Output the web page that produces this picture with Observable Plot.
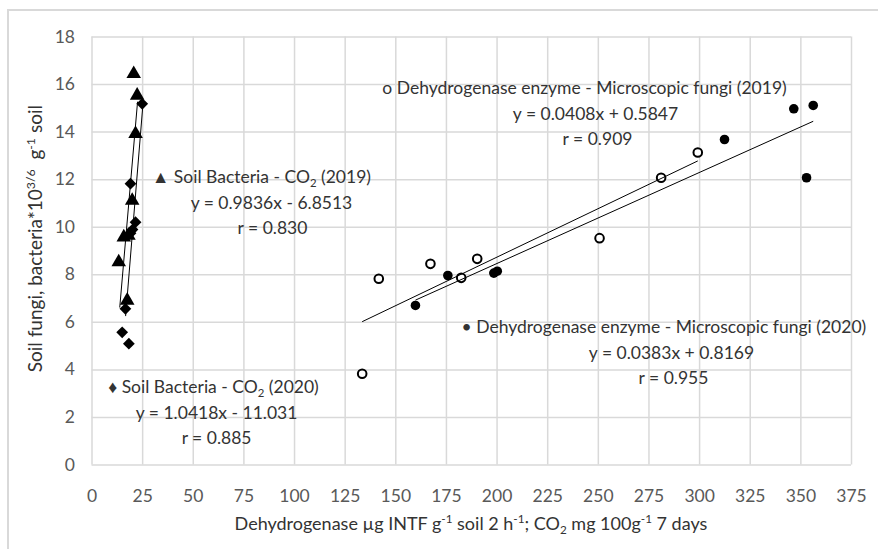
<!DOCTYPE html>
<html><head><meta charset="utf-8">
<script src="https://cdn.jsdelivr.net/npm/d3@7"></script>
<script src="https://cdn.jsdelivr.net/npm/@observablehq/plot@0.6"></script>
<style>
body{margin:0;background:#fff;}
#wrap{position:relative;width:878px;height:549px;overflow:hidden;background:#fff;}
#chart{position:absolute;left:0;top:0;}
#border{position:absolute;left:7px;top:9px;width:1000px;height:1000px;border-left:2px solid #d9d9d9;border-top:2px solid #d9d9d9;pointer-events:none;}
</style></head><body>
<div id="wrap"><div id="chart"></div><div id="border"></div></div>
<script>
// ---- tick values ----
const xTicks = [0,25,50,75,100,125,150,175,200,225,250,275,300,325,350,375];
const yTicks = [0,2,4,6,8,10,12,14,16,18];

// ---- Soil Bacteria - CO2 (2019) : triangles ----
const bact2019X = [20.6, 22.3, 21.5, 19.85, 15.7, 18.0, 13.2, 17.4];
const bact2019Y = [16.45, 15.54, 13.93, 11.12, 9.58, 9.65, 8.53, 6.92];
// ---- Soil Bacteria - CO2 (2020) : diamonds ----
const bact2020X = [24.8, 19.0, 21.5, 20.0, 19.0, 16.5, 14.9, 18.2];
const bact2020Y = [15.19, 11.83, 10.21, 9.9, 9.75, 6.57, 5.58, 5.10];
// ---- Dehydrogenase - Microscopic fungi (2019) : open circles ----
const fung2019X = [141.6, 167.1, 182.3, 190.2, 133.4, 250.6, 281.0, 299.1];
const fung2019Y = [7.83, 8.46, 7.87, 8.67, 3.84, 9.54, 12.08, 13.14];
// ---- Dehydrogenase - Microscopic fungi (2020) : filled circles ----
const fung2020X = [175.7, 198.4, 200.1, 159.7, 346.5, 356.1, 312.3, 352.8];
const fung2020Y = [7.97, 8.07, 8.15, 6.71, 14.98, 15.12, 13.69, 12.08];

// ---- trend lines (from the chart's equations), x-extent as drawn ----
const trendNames = ["bact2019", "bact2020", "fung2019", "fung2020"];
const trendSlope = [0.9836, 1.0418, 0.0408, 0.0383];
const trendIntercept = [-6.8513, -11.031, 0.5847, 0.8169];
const trendXmin = [13.7, 16.6, 133.4, 159.7];
const trendXmax = [22.5, 25.0, 299.1, 356.1];

// ---- texts ----
const labBact2019 = ["\u25B2 Soil Bacteria - CO_{2} (2019)", "y = 0.9836x - 6.8513", "r = 0.830"];
const labBact2020 = ["\u2666 Soil Bacteria - CO_{2} (2020)", "y = 1.0418x - 11.031", "r = 0.885"];
const labFung2019 = ["o Dehydrogenase enzyme - Microscopic fungi (2019)", "y = 0.0408x + 0.5847", "r = 0.909"];
const labFung2020 = ["\u2022 Dehydrogenase enzyme - Microscopic fungi (2020)", "y = 0.0383x + 0.8169", "r = 0.955"];
const xTitle = "Dehydrogenase \u00B5g INTF g^{-1} soil 2 h^{-1}; CO_{2} mg 100g^{-1} 7 days";
const yTitle = "Soil fungi, bacteria*10^{3/6}  g^{-1} soil";

const toPts = (xs, ys) => xs.map((x, i) => ({x, y: ys[i]}));
const trends = trendNames.map((n, i) => ({
  name: n,
  x1: trendXmin[i], y1: trendSlope[i] * trendXmin[i] + trendIntercept[i],
  x2: trendXmax[i], y2: trendSlope[i] * trendXmax[i] + trendIntercept[i]
}));

const FONT = "Lato, 'Open Sans', sans-serif";
const FS = 17.5;
const TXT = "#333333";

function label(lines, y, xs) {
  return lines.map((t, i) => Plot.text([t], {
    x: xs[i], y: y - i * 1.07,
    textAnchor: "middle", fontSize: FS, fill: TXT
  }));
}

const chart = Plot.plot({
  width: 878, height: 549,
  marginLeft: 91.5, marginRight: 27, marginTop: 36.5, marginBottom: 84.5,
  style: {fontFamily: FONT, background: "transparent", overflow: "visible"},
  x: {domain: [0, 375]},
  y: {domain: [0, 18]},
  marks: [
    Plot.gridX(xTicks, {stroke: "#d9d9d9", strokeOpacity: 1, strokeWidth: 1.5}),
    Plot.gridY(yTicks, {stroke: "#d9d9d9", strokeOpacity: 1, strokeWidth: 1.5}),
    Plot.axisX(xTicks, {tickSize: 0, tickPadding: 25, fontSize: FS, fill: "#595959", tickFormat: d => String(d)}),
    Plot.axisY(yTicks, {tickSize: 0, tickPadding: 17, fontSize: FS, fill: "#595959", tickFormat: d => String(d)}),
    Plot.dot(toPts(fung2019X, fung2019Y), {x: "x", y: "y", r: 4.3, fill: "white", stroke: "black", strokeWidth: 2}),
    Plot.dot(toPts(fung2020X, fung2020Y), {x: "x", y: "y", r: 4.8, fill: "black"}),
    Plot.dot(toPts(bact2020X, bact2020Y), {x: "x", y: "y", symbol: "diamond2", r: 5.3, fill: "black"}),
    Plot.dot(toPts(bact2019X, bact2019Y), {x: "x", y: "y", symbol: "triangle", r: 5.4, fill: "black"}),
    Plot.link(trends, {x1: "x1", y1: "y1", x2: "x2", y2: "y2", stroke: "black", strokeWidth: 1}),
    ...label(labBact2019, 12.09, [83.7, 88.6, 89.1]),
    ...label(labBact2020, 3.26, [60.0, 61.5, 61.5]),
    ...label(labFung2019, 15.83, [243.2, 248.6, 249.6]),
    Plot.text([labFung2020[0]], {x: 182.5, y: 5.78, textAnchor: "start", fontSize: FS, fill: TXT}),
    Plot.text([labFung2020[1]], {x: 286.1, y: 4.71, fontSize: FS, fill: TXT}),
    Plot.text([labFung2020[2]], {x: 287.1, y: 3.64, fontSize: FS, fill: TXT}),
    Plot.text([xTitle], {x: 187.1, frameAnchor: "bottom", dy: 65, textAnchor: "middle", fontSize: FS + 0.5, fill: TXT}),
    Plot.text([yTitle], {y: 9.52, frameAnchor: "left", dx: -56, rotate: -90, textAnchor: "middle", fontSize: 19, fill: TXT})
  ]
});

document.getElementById("chart").appendChild(chart);

// super/subscript markup -> tspans
(function richify(svg) {
  const ns = "http://www.w3.org/2000/svg";
  svg.querySelectorAll("text").forEach(t => {
    const s = t.textContent;
    if (!/[\^_]\{/.test(s)) return;
    const fs = parseFloat(getComputedStyle(t).fontSize) || FS;
    while (t.firstChild) t.removeChild(t.firstChild);
    let cur = 0;
    const add = (txt, target, small) => {
      const ts = document.createElementNS(ns, "tspan");
      ts.textContent = txt;
      const dy = target - cur;
      if (dy) ts.setAttribute("dy", dy.toFixed(2));
      if (small) ts.setAttribute("font-size", (fs * 0.65).toFixed(2));
      cur = target;
      t.appendChild(ts);
    };
    const re = /([\^_])\{([^}]*)\}/g;
    let last = 0, m;
    while ((m = re.exec(s))) {
      if (m.index > last) add(s.slice(last, m.index), 0, false);
      add(m[2], m[1] === "^" ? -0.38 * fs : 0.2 * fs, true);
      last = re.lastIndex;
    }
    if (last < s.length) add(s.slice(last), 0, false);
  });
})(chart);
</script>
</body></html>
